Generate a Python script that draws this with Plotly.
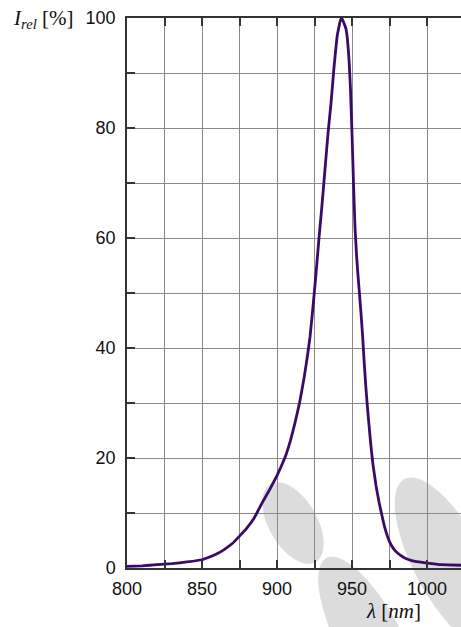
import numpy as np
import plotly.graph_objects as go

# Relative spectral emission of the IR emitter
wavelength_nm = [800, 810, 820, 830, 840, 850, 855, 860, 865, 870, 875, 880, 885,
                 890, 895, 900, 903, 906, 909, 912, 915, 918, 920, 922, 924, 926,
                 928, 930, 932, 934, 936, 938, 940, 941, 942, 943, 944, 945, 946,
                 947, 948, 949, 950, 951, 952, 953, 954, 955, 956, 957, 958, 959,
                 960, 961, 962, 963, 964, 966, 968, 970, 972, 975, 978, 981, 984,
                 988, 992, 1000, 1010, 1023]
intensity_pct = [0.3, 0.4, 0.6, 0.8, 1.1, 1.5, 2.0, 2.6, 3.4, 4.4, 5.8, 7.3, 9.2,
                 11.8, 14.2, 16.8, 18.6, 20.6, 23.2, 26.4, 30.0, 34.5, 38.0, 42.0,
                 47.5, 53.5, 60.0, 66.0, 72.5, 79.0, 84.5, 91.0, 96.5, 98.0, 99.3,
                 100.0, 99.5, 98.8, 98.0, 96.0, 92.5, 87.0, 79.0, 70.0, 62.0, 57.0,
                 53.2, 49.8, 46.3, 42.5, 38.0, 33.8, 30.2, 27.0, 24.0, 21.2, 18.8,
                 15.0, 12.0, 9.5, 7.2, 4.8, 3.4, 2.6, 2.0, 1.5, 1.2, 0.9, 0.6, 0.5]

x_ticks = [800, 850, 900, 950, 1000]
y_ticks = [0, 20, 40, 60, 80, 100]

W, H = 461, 627
M_L, M_T, M_R, M_B = 127, 18, 0, 59
PLOT_W = W - M_L - M_R
PLOT_H = H - M_T - M_B


def to_paper(px, py):
    return (px - M_L) / PLOT_W, (H - M_B - py) / PLOT_H


def ellipse_path(cx, cy, a, b, angle_deg, n=72):
    t = np.linspace(0, 2 * np.pi, n, endpoint=False)
    th = np.radians(angle_deg)
    xs = cx + a * np.cos(t) * np.cos(th) - b * np.sin(t) * np.sin(th)
    ys = cy + a * np.cos(t) * np.sin(th) + b * np.sin(t) * np.cos(th)
    pts = [to_paper(x, y) for x, y in zip(xs, ys)]
    return "M " + " L ".join(f"{x:.4f},{y:.4f}" for x, y in pts) + " Z"


# Decorative background ellipses (pixel centre, semi-axes, tilt)
backdrop = [
    (293, 523, 45, 24, 60),
    (371, 642, 95, 32, 62),
    (449, 563, 95, 35, 62),
]

fig = go.Figure()
fig.add_trace(go.Scatter(
    x=wavelength_nm, y=intensity_pct, mode="lines",
    line=dict(color="#3a0a68", width=2.8, shape="spline", smoothing=0.3),
    hoverinfo="skip", showlegend=False,
))

for cx, cy, a, b, ang in backdrop:
    fig.add_shape(type="path", path=ellipse_path(cx, cy, a, b, ang),
                  xref="paper", yref="paper", layer="below",
                  fillcolor="#dcdcdc", line=dict(width=0))

grid_col = "#8a8a8a"
axis_font = dict(family="Liberation Sans, Arial", size=18, color="#111111")

fig.update_xaxes(
    range=[800, 800 + PLOT_W / 1.5], tickvals=x_ticks, ticktext=[str(v) for v in x_ticks],
    showgrid=True, gridcolor=grid_col, gridwidth=1,
    showline=True, linecolor="#333333", linewidth=1.5, mirror="ticks",
    ticks="inside", ticklen=8, tickcolor="#333333", tickwidth=1.5,
    minor=dict(dtick=25, tick0=800, showgrid=True, gridcolor=grid_col, gridwidth=1,
               ticks="inside", ticklen=8, tickcolor="#333333"),
    tickfont=axis_font, zeroline=False, ticklabelstandoff=4,
)
fig.update_yaxes(
    range=[0, 100], tickvals=y_ticks,
    showgrid=True, gridcolor=grid_col, gridwidth=1,
    showline=True, linecolor="#333333", linewidth=1.5,
    ticks="inside", ticklen=8, tickcolor="#333333", tickwidth=1.5,
    minor=dict(dtick=10, tick0=0, showgrid=True, gridcolor=grid_col, gridwidth=1,
               ticks="inside", ticklen=8, tickcolor="#333333"),
    tickfont=axis_font, zeroline=False, ticklabelstandoff=6,
)

ax_title_font = dict(family="Liberation Serif, Times New Roman", size=21, color="#111111")
yx, yy = to_paper(11, 19)
fig.add_annotation(text="<i>I</i><sub><i>rel</i></sub> [%]", xref="paper", yref="paper",
                   x=yx, y=yy, xanchor="left", yanchor="middle", showarrow=False,
                   font=ax_title_font)
lx, ly = to_paper(393, 611)
fig.add_annotation(text="<i>λ</i> [<i>nm</i>]", xref="paper", yref="paper",
                   x=lx, y=ly, xanchor="center", yanchor="middle", showarrow=False,
                   font=ax_title_font)

fig.update_layout(
    width=W, height=H,
    margin=dict(l=M_L, r=M_R, t=M_T, b=M_B, pad=0),
    paper_bgcolor="white", plot_bgcolor="rgba(0,0,0,0)",
    showlegend=False,
)

fig.write_html("out.html")
